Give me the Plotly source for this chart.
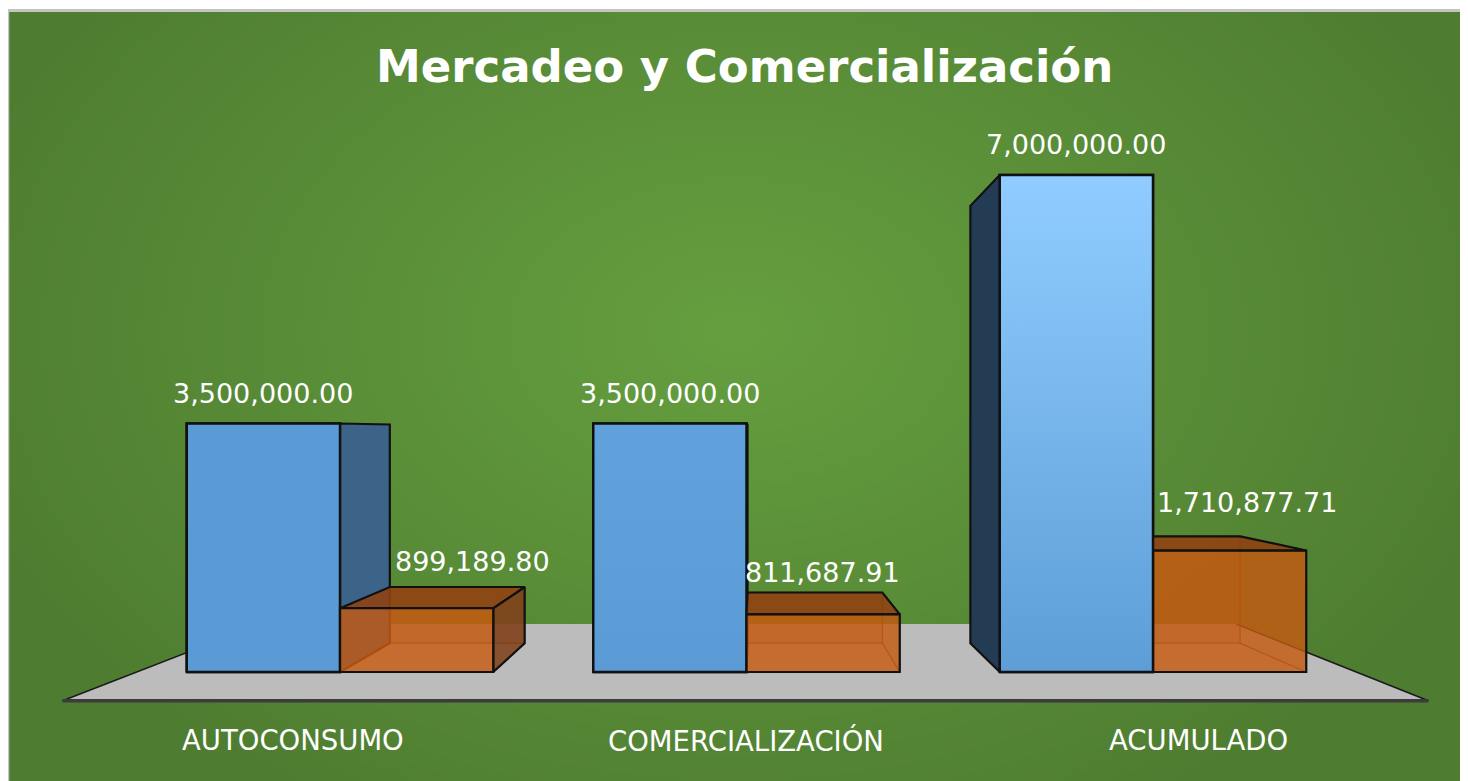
import base64
import struct
import zlib

import numpy as np
import plotly.graph_objects as go

# ---------------- data ----------------
categories = ["AUTOCONSUMO", "COMERCIALIZACIÓN", "ACUMULADO"]
planned = [3500000.00, 3500000.00, 7000000.00]
executed = [899189.80, 811687.91, 1710877.71]
title_text = "Mercadeo y Comercialización"

# ---------------- geometry / style ----------------
# the page body adds an 8 px margin, so the figure is 8 px smaller each way
W, H = 1460, 773
OFF = 8.0
X0_PX, CAT_PX = 340.0 - OFF, 406.5   # pixel of category 0 centre, pixels per category
Y0_PX, UNIT_PX = 672.0 - OFF, 71.0e-6  # pixel of value 0, pixels per unit value

BAR_W = 0.377                     # width of one bar (category units)
VX, VY = 1.021, 3.38e6            # vanishing point (data coords)
DEPTH = 0.88                      # back-face scale towards vanishing point
FLOOR_T = (1.12, 0.80)            # floor front / back scale
LABEL_T = 1.114                   # category labels scale

EDGE = "#111111"
BLUE_SIDE = {"right": "#3b6488", "left": "#233c54", "top": "#4a7fb0"}
BLUE_GRAD = [("#5b9bd5", "#5b9bd5"), ("#5b9bd5", "#61a2dd"), ("#5d9ed7", "#90ccff")]
ORANGE_HIDDEN = {"back": "rgba(197,90,17,0.35)", "bottom": "rgba(237,125,49,0.22)",
                 "left": "rgba(197,90,17,0.20)", "right": "rgba(197,90,17,0.20)",
                 "top": "rgba(197,90,17,0.20)"}
ORANGE_VISIBLE = {"front": "rgba(197,90,17,0.77)", "top": "rgba(141,65,18,0.85)",
                  "right": "rgba(123,64,27,0.85)"}
HIDDEN_EDGE = "rgba(110,45,0,0.45)"

LABEL_FONT = dict(family="DejaVu Sans", size=27, color="white")
CAT_FONT = dict(family="DejaVu Sans", size=27.5, color="white")
TITLE_FONT = dict(family="DejaVu Sans", size=45, color="white", weight="bold")
BLUE_LABEL_SHIFT = [30, 30, 31]
ORANGE_LABEL_SHIFT = [(56, 47), (-1, 42), (17, 48)]
CAT_LABEL_Y_PX = 740 - OFF
TITLE_X_PX, TITLE_Y_PX = 745 - OFF, 66 - OFF


def P(x, y, t):
    return VX + t * (x - VX), VY + t * (y - VY)


def box_faces(x0, x1, v):
    def B(x, y):
        return P(x, y, DEPTH)
    return {
        "front": [(x0, 0), (x1, 0), (x1, v), (x0, v)],
        "back": [B(x0, 0), B(x1, 0), B(x1, v), B(x0, v)],
        "bottom": [(x0, 0), (x1, 0), B(x1, 0), B(x0, 0)],
        "left": [(x0, 0), (x0, v), B(x0, v), B(x0, 0)],
        "right": [(x1, 0), (x1, v), B(x1, v), B(x1, 0)],
        "top": [(x0, v), (x1, v), B(x1, v), B(x0, v)],
    }


def poly(pts, fill, line_color, line_width, **kw):
    xs = [p[0] for p in pts] + [pts[0][0]]
    ys = [p[1] for p in pts] + [pts[0][1]]
    return go.Scatter(x=xs, y=ys, mode="lines", fill="toself", fillcolor=fill,
                      line=dict(color=line_color, width=line_width),
                      hoverinfo="skip", showlegend=False, **kw)


# ---------------- background gradient image ----------------
BG_TOP = 3.7
def gradient_png():
    gw, gh = 365, 192
    xs = (np.arange(gw) + 0.5) / gw * W
    ys = (np.arange(gh) + 0.5) / gh * (H - BG_TOP) + BG_TOP
    X, Y = np.meshgrid(xs, ys)
    d = np.sqrt(((X - (735 - OFF)) / 820.0) ** 2 + ((Y - (330 - OFF)) / 560.0) ** 2)
    d = np.clip(d, 0, 1)[..., None]
    c0 = np.array([101, 159, 63], float)
    c1 = np.array([78, 124, 48], float)
    img = (c0 * (1 - d) + c1 * d).round().astype(np.uint8)
    raw = b"".join(b"\x00" + row.tobytes() for row in img)

    def chunk(tag, data):
        return (struct.pack(">I", len(data)) + tag + data
                + struct.pack(">I", zlib.crc32(tag + data) & 0xFFFFFFFF))
    png = (b"\x89PNG\r\n\x1a\n"
           + chunk(b"IHDR", struct.pack(">IIBBBBB", gw, gh, 8, 2, 0, 0, 0))
           + chunk(b"IDAT", zlib.compress(raw, 9))
           + chunk(b"IEND", b""))
    return "data:image/png;base64," + base64.b64encode(png).decode()


fig = go.Figure()

# front faces of the planned bars (real bar trace)
n = len(categories)
fig.add_trace(go.Bar(
    x=[i - BAR_W / 2 for i in range(n)], y=planned, width=BAR_W,
    marker=dict(color="#5b9bd5", line=dict(color=EDGE, width=2.5)),
    hoverinfo="skip", showlegend=False, name="Programado"))

# build boxes and paint from farthest (horizontally from vanishing point) to nearest
boxes = []
for i in range(n):
    boxes.append(("blue", i, i - BAR_W, i, planned[i]))
    boxes.append(("orange", i, i, i + BAR_W, executed[i]))
boxes.sort(key=lambda b: -abs((b[2] + b[3]) / 2 - VX))

for kind, i, x0, x1, v in boxes:
    f = box_faces(x0, x1, v)
    if kind == "blue":
        if x1 < VX:
            fig.add_trace(poly(f["right"], BLUE_SIDE["right"], EDGE, 2.2))
        if x0 > VX:
            fig.add_trace(poly(f["left"], BLUE_SIDE["left"], EDGE, 2.2))
        if v < VY:
            fig.add_trace(poly(f["top"], BLUE_SIDE["top"], EDGE, 2.2))
        c_bot, c_top = BLUE_GRAD[i]
        fig.add_trace(poly(f["front"], "#5b9bd5", EDGE, 2.5,
                           fillgradient=dict(type="vertical",
                                             colorscale=[[0, c_bot], [1, c_top]],
                                             start=0, stop=v)))
    else:
        hidden = ["back", "bottom", "left"]
        visible = []
        if x1 < VX:
            visible.append("right")
        else:
            hidden.append("right")
        if v < VY:
            visible.append("top")
        else:
            hidden.append("top")
        visible.append("front")
        for name in hidden:
            fig.add_trace(poly(f[name], ORANGE_HIDDEN[name], HIDDEN_EDGE, 1.3))
        for name in visible:
            fig.add_trace(poly(f[name], ORANGE_VISIBLE[name], EDGE, 2.2))

# ---------------- floor (drawn below the traces) ----------------
fx0, fx1 = -0.5, n - 0.5
tf, tb = FLOOR_T
fl = [P(fx0, 0, tf), P(fx1, 0, tf), P(fx1, 0, tb), P(fx0, 0, tb)]
path = "M " + " L ".join(f"{x},{y}" for x, y in fl) + " Z"
shapes = [
    dict(type="path", path=path, xref="x", yref="y", fillcolor="#bcbcbc",
         line=dict(width=0), layer="below"),
    dict(type="line", xref="x", yref="y", x0=fl[0][0], y0=fl[0][1], x1=fl[3][0], y1=fl[3][1],
         line=dict(color="#1a1a1a", width=1.5), layer="below"),
    dict(type="line", xref="x", yref="y", x0=fl[1][0], y0=fl[1][1], x1=fl[2][0], y1=fl[2][1],
         line=dict(color="#1a1a1a", width=1.5), layer="below"),
    dict(type="line", xref="x", yref="y", x0=fl[0][0], y0=fl[0][1], x1=fl[1][0], y1=fl[1][1],
         line=dict(color="#3c3c3c", width=3.5), layer="below"),
    # chart frame
    dict(type="rect", xref="paper", yref="paper", x0=0, x1=1.02, y0=-0.02,
         y1=1 - 2.4 / H, line=dict(color="#c3c3c3", width=2.6), fillcolor="rgba(0,0,0,0)"),
]

# ---------------- labels ----------------
annotations = []
for i in range(n):
    annotations.append(dict(x=i - BAR_W / 2, y=planned[i], xref="x", yref="y",
                            text=f"{planned[i]:,.2f}", showarrow=False, font=LABEL_FONT,
                            yanchor="middle", xanchor="center", yshift=BLUE_LABEL_SHIFT[i]))
    dx, dy = ORANGE_LABEL_SHIFT[i]
    annotations.append(dict(x=i + BAR_W / 2, y=executed[i], xref="x", yref="y",
                            text=f"{executed[i]:,.2f}", showarrow=False, font=LABEL_FONT,
                            yanchor="middle", xanchor="center", xshift=dx, yshift=dy))
    annotations.append(dict(x=VX + LABEL_T * (i - VX), y=1 - CAT_LABEL_Y_PX / H,
                            xref="x", yref="paper",
                            text=categories[i], showarrow=False, font=CAT_FONT,
                            yanchor="middle", xanchor="center"))
annotations.append(dict(x=TITLE_X_PX / W, y=1 - TITLE_Y_PX / H, xref="paper", yref="paper",
                        text=title_text, showarrow=False, font=TITLE_FONT,
                        yanchor="middle", xanchor="center"))

fig.update_layout(
    width=W, height=H,
    margin=dict(l=0, r=0, t=0, b=0),
    paper_bgcolor="white", plot_bgcolor="rgba(0,0,0,0)",
    xaxis=dict(range=[-X0_PX / CAT_PX, (W - X0_PX) / CAT_PX], visible=False, fixedrange=True),
    yaxis=dict(range=[(Y0_PX - H) / UNIT_PX, Y0_PX / UNIT_PX], visible=False, fixedrange=True),
    shapes=shapes,
    annotations=annotations,
    images=[dict(source=gradient_png(), xref="paper", yref="paper",
                 x=0, y=1 - BG_TOP / H, sizex=1, sizey=(H - BG_TOP) / H,
                 xanchor="left", yanchor="top", sizing="stretch", layer="below")],
    showlegend=False,
)

fig.write_html("out.html")
